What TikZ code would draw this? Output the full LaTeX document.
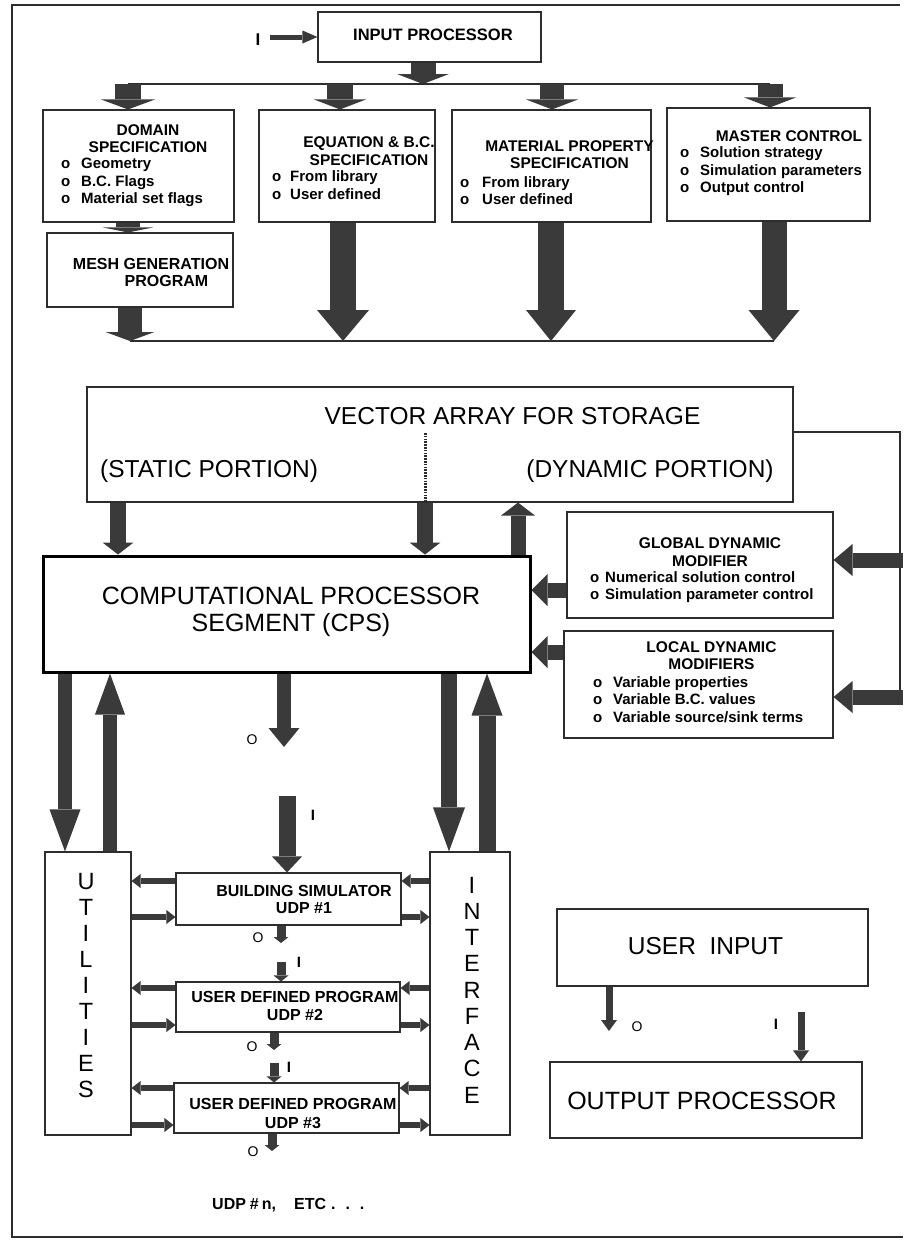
\documentclass[tikz,border=0pt]{standalone}
\usepackage{fontspec}
\setmainfont{Liberation Sans}
\usetikzlibrary{arrows.meta}
\definecolor{agray}{RGB}{58,58,58}
\definecolor{lgray}{RGB}{45,45,45}
\newcommand{\obul}[1][20pt]{\makebox[#1][l]{o}}
\begin{document}
\begin{tikzpicture}[x=1pt,y=-1pt,
  box/.style={draw=lgray, line width=1.1pt, inner sep=0pt},
  sb/.style={font=\fontsize{15.5}{17.5}\selectfont\bfseries, inner sep=0pt, align=center, text=black},
  sbl/.style={font=\fontsize{15}{17.5}\selectfont\bfseries, inner sep=0pt, align=left, anchor=west, text=black},
  big/.style={font=\fontsize{24.5}{27}\selectfont, inner sep=0pt, align=center, text=black},
  vlet/.style={font=\fontsize{23.5}{26}\selectfont, inner sep=0pt, align=center, text=black},
  lab/.style={font=\fontsize{14}{14}\selectfont, inner sep=0pt, text=black},
  barr/.style n args={3}{draw=agray, line width=#1, -{Triangle[width=#2,length=#3,line width=0pt,fill=agray]}},
  thinl/.style={draw=lgray, line width=1.1pt}
]
\useasboundingbox (0,0) rectangle (903,1240);
\fill[white] (0,0) rectangle (903,1240);

% frame
\coordinate (fTR) at (900,5);
\coordinate (fTL) at (12,5);
\coordinate (fBL) at (12,1237);
\coordinate (fBR) at (903,1237);
\draw[lgray, line width=1.6pt] (fTR) -- (fTL) -- (fBL) -- (fBR);

% helper coordinates
\coordinate (xin) at (423,0);
\coordinate (xd) at (128,0);
\coordinate (xe) at (340,0);
\coordinate (xe2) at (343,0);
\coordinate (xm) at (552,0);
\coordinate (xm2) at (551,0);
\coordinate (xs) at (770,0);
\coordinate (xs2) at (774,0);
\coordinate (xmesh) at (130,0);
\coordinate (xv1) at (118,0);
\coordinate (xv2) at (425,0);
\coordinate (xvu) at (518,0);
\coordinate (xu1) at (65,0);
\coordinate (xu2) at (110,0);
\coordinate (xi1) at (449,0);
\coordinate (xi2) at (487,0);
\coordinate (xmid) at (284,0);
\coordinate (xmid2) at (287,0);
\coordinate (xo1) at (281,0);
\coordinate (xo2) at (274,0);
\coordinate (xo3) at (272,0);
\coordinate (xui) at (609,0);
\coordinate (xop) at (801,0);
\coordinate (yb1) at (0,84);
\coordinate (yb2) at (0,341);
\coordinate (yvr) at (0,432);
\coordinate (yg) at (0,590);
\coordinate (yl) at (0,652);
\coordinate (h1a) at (0,881);
\coordinate (h1b) at (0,917);
\coordinate (h2a) at (0,988);
\coordinate (h2b) at (0,1025);
\coordinate (h3a) at (0,1088);
\coordinate (h3b) at (0,1125);

% boxes
\node[box, minimum width=223pt, minimum height=50pt] (inproc) at (429.5,37) {};
\node[box, minimum width=191pt, minimum height=112pt] (dom) at (138.5,166) {};
\node[box, minimum width=176pt, minimum height=112pt] (eqn) at (347,166) {};
\node[box, minimum width=199pt, minimum height=112pt] (mat) at (551.5,166) {};
\node[box, minimum width=203pt, minimum height=113pt] (mst) at (768.5,164.5) {};
\node[box, minimum width=186pt, minimum height=74pt] (mesh) at (140,270) {};
\node[box, minimum width=706pt, minimum height=115pt] (vec) at (440,444.5) {};
\node[box, line width=3pt, draw=black, minimum width=487pt, minimum height=116pt] (cps) at (286.5,614) {};
\node[box, minimum width=266pt, minimum height=106pt] (gdm) at (700,565) {};
\node[box, minimum width=269pt, minimum height=107pt] (ldm) at (698.5,684.5) {};
\node[box, minimum width=86pt, minimum height=283pt] (util) at (88,993.5) {};
\node[box, minimum width=80pt, minimum height=283pt] (intf) at (470,993.5) {};
\node[box, minimum width=225pt, minimum height=52pt] (udp1) at (288.5,899) {};
\node[box, minimum width=224pt, minimum height=50pt] (udp2) at (288,1007) {};
\node[box, minimum width=225pt, minimum height=50pt] (udp3) at (286.5,1108) {};
\node[box, minimum width=311pt, minimum height=77pt] (uin) at (712.5,947.5) {};
\node[box, minimum width=312pt, minimum height=76pt] (outp) at (706,1100) {};

% texts
\node[sb, font=\fontsize{16.5}{18}\selectfont\bfseries] (tin) at (433,35) {INPUT PROCESSOR};
\node[sb] (tdom) at (148,138.5) {DOMAIN\\SPECIFICATION};
\node[sbl] (idom) at (61,182.5) {\obul Geometry\\\obul B.C. Flags\\\obul Material set flags};
\node[sb] (teqn) at (369,151) {EQUATION \& B.C.\\SPECIFICATION};
\node[sbl] (ieqn) at (272,185) {\obul[18pt]From library\\\obul[18pt]User defined};
\node[sb] (tmat) at (569.5,154.5) {MATERIAL PROPERTY\\SPECIFICATION};
\node[sbl] (imat) at (460,190.5) {\obul[22pt]From library\\\obul[22pt]User defined};
\node[sb] (tmst) at (789,136) {MASTER CONTROL};
\node[sbl] (imst) at (680,171.5) {\obul Solution strategy\\\obul Simulation parameters\\\obul Output control};
\node[sb, font=\fontsize{16}{17}\selectfont\bfseries] (tmesh1) at (151,264) {MESH GENERATION};
\node[sb, font=\fontsize{16}{17}\selectfont\bfseries] (tmesh2) at (166.5,281) {PROGRAM};

\node[big] (tvec) at (512.5,416) {VECTOR ARRAY FOR STORAGE};
\node[big, anchor=west] (tstat) at (100,471) {(STATIC PORTION)};
\node[big] (tdyn) at (650,471) {(DYNAMIC PORTION)};
\node[big, font=\fontsize{25}{27}\selectfont] (tcps) at (291,611.5) {COMPUTATIONAL PROCESSOR\\SEGMENT (CPS)};

\node[sb] (tgdm) at (710,552) {GLOBAL DYNAMIC\\MODIFIER};
\node[sbl] (igdm) at (590,587) {\obul[15pt]Numerical solution control\\\obul[15pt]Simulation parameter control};
\node[sb] (tldm) at (711.5,655.5) {LOCAL DYNAMIC\\MODIFIERS};
\node[sbl] (ildm) at (593,699.5) {\obul Variable properties\\\obul Variable B.C. values\\\obul Variable source/sink terms};

\node[vlet] (tutil) at (86,986) {U\\T\\I\\L\\I\\T\\I\\E\\S};
\node[vlet, font=\fontsize{23.5}{26.25}\selectfont] (tintf) at (472,990) {I\\N\\T\\E\\R\\F\\A\\C\\E};

\node[sb, font=\fontsize{16}{17}\selectfont\bfseries] (tu1) at (304,899.5) {BUILDING SIMULATOR\\UDP \#1};
\node[sb, font=\fontsize{16}{18}\selectfont\bfseries] (tu2) at (295,1006) {USER DEFINED PROGRAM\\UDP \#2};
\node[sb, font=\fontsize{16}{19}\selectfont\bfseries] (tu3) at (293,1113.5) {USER DEFINED PROGRAM\\UDP \#3};
\node[sbl, font=\fontsize{16}{17}\selectfont\bfseries] (tetc) at (212,1205) {UDP\hspace{4pt}\#\hspace{3pt}n,\hspace{18pt}ETC\hspace{5pt}.\hspace{10pt}.\hspace{10pt}.};

\node[big] (tuin) at (705.5,946) {USER\ \ INPUT};
\node[big, font=\fontsize{25}{27}\selectfont] (toutp) at (702,1101) {OUTPUT PROCESSOR};

% labels
\node[lab, font=\fontsize{17}{17}\selectfont\bfseries] (lI0) at (258,40) {I};
\node[lab] (lO1) at (252,740) {O};
\node[lab, font=\fontsize{15}{15}\selectfont\bfseries] (lI1) at (313,815) {I};
\node[lab] (lO2) at (258,938) {O};
\node[lab, font=\fontsize{15}{15}\selectfont\bfseries] (lI2) at (299,962) {I};
\node[lab] (lO3) at (252,1047) {O};
\node[lab, font=\fontsize{15}{15}\selectfont\bfseries] (lI3) at (289,1067) {I};
\node[lab] (lO4) at (253,1152) {O};
\node[lab] (lO5) at (637,1027) {O};
\node[lab, font=\fontsize{15}{15}\selectfont\bfseries] (lI5) at (776,1024) {I};

% top arrows
\coordinate (iin) at (270,37);
\draw[barr={5pt}{13pt}{15pt}] (iin) -- (inproc.west);
\draw[barr={25pt}{52pt}{10pt}] (xin |- inproc.south) -- (xin |- yb1);
\draw[thinl] (xd |- yb1) -- (xs |- yb1);
\draw[barr={26pt}{54pt}{10pt}] (xd |- yb1) -- (xd |- dom.north);
\draw[barr={26pt}{52pt}{10pt}] (xe |- yb1) -- (xe |- eqn.north);
\draw[barr={24pt}{52pt}{10pt}] (xm |- yb1) -- (xm |- mat.north);
\draw[barr={25pt}{52pt}{10pt}] (xs |- yb1) -- (xs |- mst.north);
\draw[barr={24pt}{50pt}{5pt}] (xd |- dom.south) -- (xd |- mesh.north);

% to bus 2
\draw[thinl] (xmesh |- yb2) -- (xs2 |- yb2);
\draw[barr={24pt}{49pt}{9pt}] (xmesh |- mesh.south) -- (xmesh |- yb2);
\draw[barr={26pt}{52pt}{31pt}] (xe2 |- eqn.south) -- (xe2 |- yb2);
\draw[barr={26pt}{50pt}{31pt}] (xm2 |- mat.south) -- (xm2 |- yb2);
\draw[barr={25pt}{51pt}{31pt}] (xs2 |- mst.south) -- (xs2 |- yb2);

% vector array
\coordinate (dtop) at (425,433);
\draw[lgray, line width=3pt, dash pattern=on 1.5pt off 1.3pt] (dtop) -- (xv2 |- vec.south);
\coordinate (rc1) at (900,432);
\coordinate (rc2) at (900,697);
\draw[thinl] (vec.east |- yvr) -- (rc1) -- (rc2);
\draw[barr={16pt}{31pt}{12pt}] (xv1 |- vec.south) -- (xv1 |- cps.north);
\draw[barr={16pt}{31pt}{12pt}] (xv2 |- vec.south) -- (xv2 |- cps.north);
\draw[barr={15pt}{34pt}{13pt}] (xvu |- cps.north) -- (xvu |- vec.south);

% modifiers
\coordinate (rg) at (903,560);
\coordinate (rl) at (903,697);
\draw[barr={15pt}{32pt}{19pt}] (rg) -- (rg -| gdm.east);
\draw[barr={15pt}{32pt}{19pt}] (rl) -- (rl -| ldm.east);
\draw[barr={15pt}{32pt}{16pt}] (gdm.west |- yg) -- (cps.east |- yg);
\draw[barr={15pt}{32pt}{16pt}] (ldm.west |- yl) -- (cps.east |- yl);

% cps to utilities / interface
\draw[barr={14pt}{31pt}{42pt}] (xu1 |- cps.south) -- (xu1 |- util.north);
\draw[barr={14pt}{30pt}{41pt}] (xu2 |- util.north) -- (xu2 |- cps.south);
\draw[barr={16pt}{32pt}{44pt}] (xi1 |- cps.south) -- (xi1 |- intf.north);
\draw[barr={17pt}{31pt}{42pt}] (xi2 |- intf.north) -- (xi2 |- cps.south);
\coordinate (mO) at (284,747);
\coordinate (mI) at (287,796);
\draw[barr={14pt}{31pt}{19pt}] (xmid |- cps.south) -- (mO);
\draw[barr={17pt}{30pt}{16pt}] (mI) -- (xmid2 |- udp1.north);

% UDP side arrows
\tikzset{sarr/.style={barr={6pt}{14pt}{9pt}}}
\draw[sarr] (udp1.west |- h1a) -- (util.east |- h1a);
\draw[sarr] (util.east |- h1b) -- (udp1.west |- h1b);
\draw[sarr] (intf.west |- h1a) -- (udp1.east |- h1a);
\draw[sarr] (udp1.east |- h1b) -- (intf.west |- h1b);
\draw[sarr] (udp2.west |- h2a) -- (util.east |- h2a);
\draw[sarr] (util.east |- h2b) -- (udp2.west |- h2b);
\draw[sarr] (intf.west |- h2a) -- (udp2.east |- h2a);
\draw[sarr] (udp2.east |- h2b) -- (intf.west |- h2b);
\draw[sarr] (udp3.west |- h3a) -- (util.east |- h3a);
\draw[sarr] (util.east |- h3b) -- (udp3.west |- h3b);
\draw[sarr] (intf.west |- h3a) -- (udp3.east |- h3a);
\draw[sarr] (udp3.east |- h3b) -- (intf.west |- h3b);

% UDP chain arrows
\tikzset{svarr/.style={barr={9pt}{15pt}{6pt}}}
\coordinate (o1) at (281,943);
\coordinate (i2) at (281,962);
\coordinate (o2) at (274,1050);
\coordinate (i3) at (274,1063);
\coordinate (o3) at (272,1151);
\draw[svarr] (xo1 |- udp1.south) -- (o1);
\draw[svarr] (i2) -- (xo1 |- udp2.north);
\draw[svarr] (xo2 |- udp2.south) -- (o2);
\draw[svarr] (i3) -- (xo2 |- udp3.north);
\draw[svarr] (xo3 |- udp3.south) -- (o3);

% user input / output
\coordinate (o4) at (609,1031);
\coordinate (i4) at (801,1012);
\draw[barr={7pt}{16pt}{11pt}] (xui |- uin.south) -- (o4);
\draw[barr={7pt}{16pt}{11pt}] (i4) -- (xop |- outp.north);
\end{tikzpicture}
\end{document}
